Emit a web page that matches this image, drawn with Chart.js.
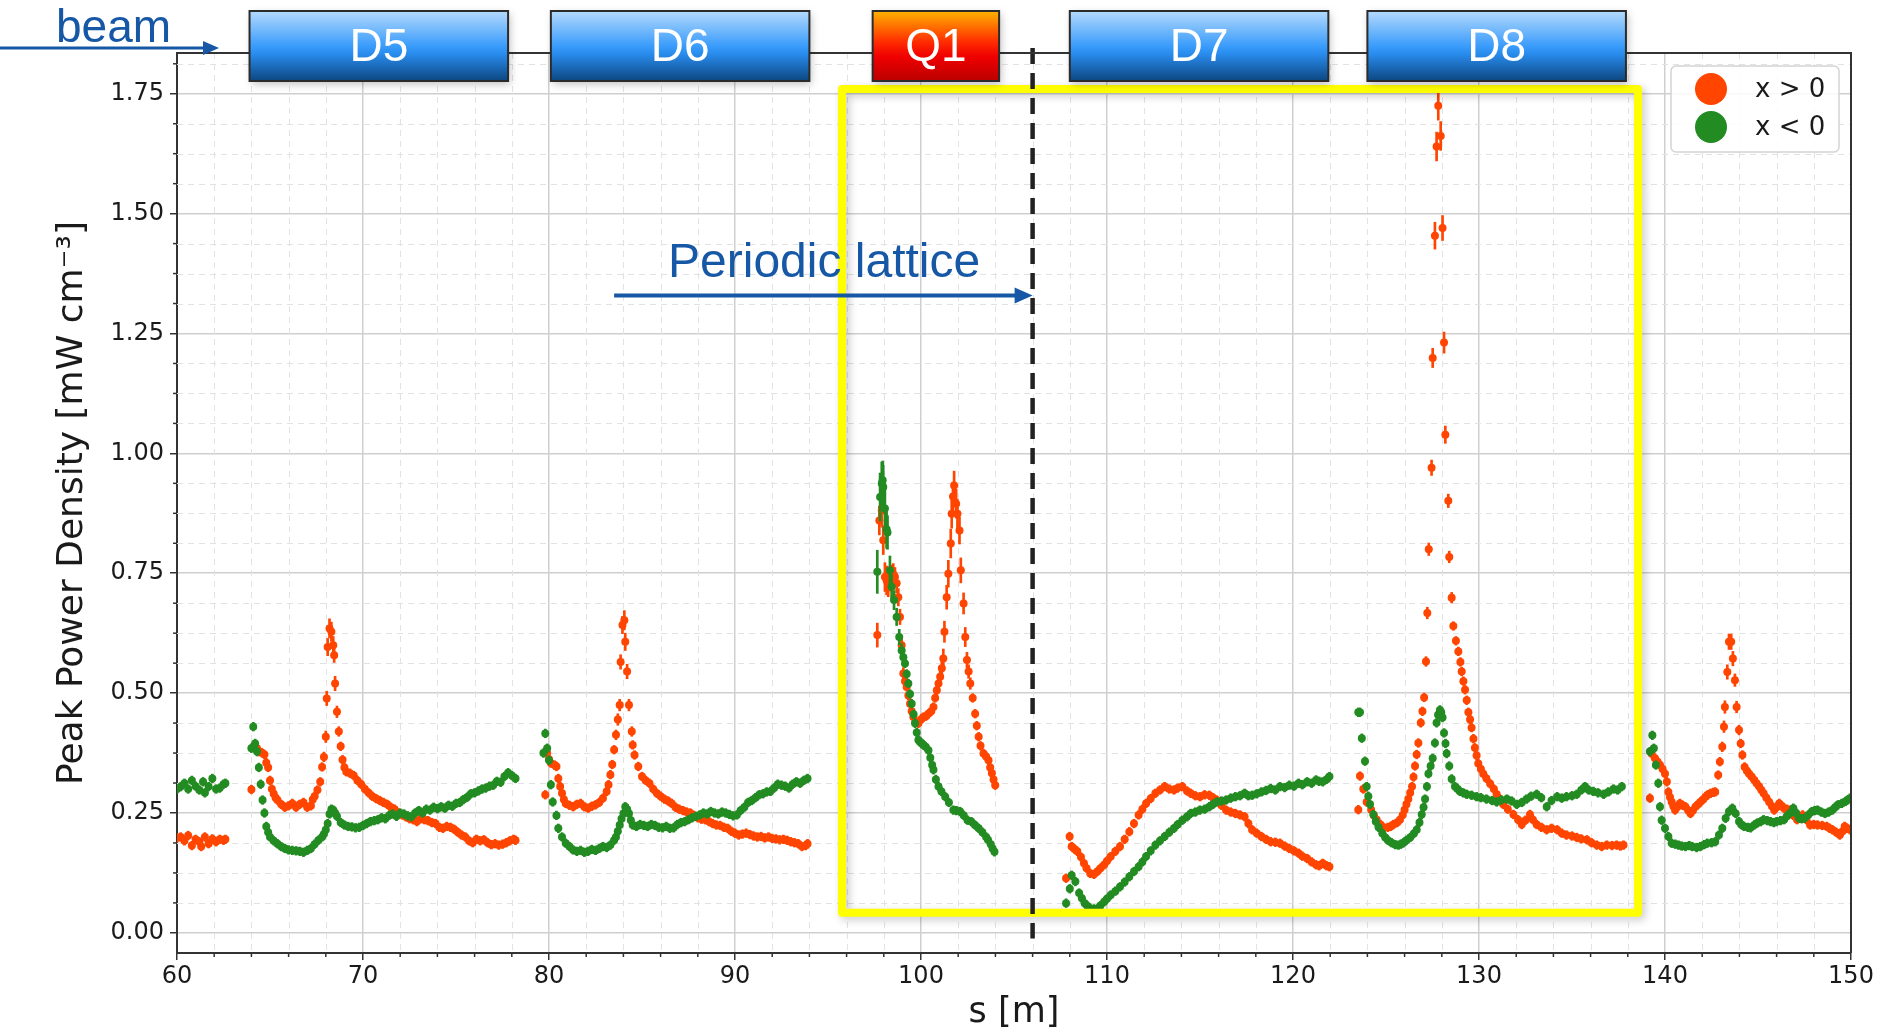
<!DOCTYPE html>
<html>
<head>
<meta charset="utf-8">
<script src="https://cdn.jsdelivr.net/npm/chart.js@4.4.1/dist/chart.umd.min.js"></script>
<style>
  html, body { margin: 0; padding: 0; background: #fff; }
  canvas { display: block; }
</style>
</head>
<body>
<canvas id="chart" width="1888" height="1035"></canvas>
<script>
// [s (m), peak power density (mW cm^-3), error (optional)]
const posPre = [[60.0,.198],[60.2,.200],[60.4,.192],[60.6,.203],[60.8,.182],[61.0,.195],[61.2,.190],[61.3,.180],[61.5,.200],[61.7,.186],[61.9,.196],[62.1,.190],[62.3,.195],[62.5,.193],[62.6,.195]];
const negPre = [[60.0,.300],[60.2,.305],[60.4,.312],[60.6,.300],[60.8,.318],[61.0,.306],[61.2,.298],[61.4,.315],[61.5,.292],[61.7,.305],[61.9,.322],[62.1,.300],[62.3,.302],[62.5,.310],[62.6,.312]];

const posD5 = [[64.0,.299],[64.15,.390],[64.3,.385],[64.4,.378],[64.55,.376],[64.7,.372],[64.8,.355],[64.9,.345],[65.0,.318],[65.1,.300],[65.2,.290],[65.3,.282],[65.4,.277],[65.6,.268],[65.8,.262],[66.0,.265],[66.2,.270],[66.4,.262],[66.6,.268],[66.8,.272],[67.0,.262],[67.2,.265],[67.3,.278],[67.4,.285],[67.55,.298],[67.7,.315],[67.8,.346],[67.9,.367,.01],[68.0,.409,.012],[68.05,.489,.015],[68.1,.596,.018],[68.2,.635,.02],[68.3,.628,.02],[68.4,.600,.018],[68.45,.579,.015],[68.5,.520,.015],[68.6,.461,.012],[68.7,.420,.01],[68.8,.389],[68.9,.361],[69.0,.345],[69.1,.336],[69.3,.333],[69.5,.328],[69.7,.318],[69.9,.310],[70.1,.300],[70.3,.292],[70.5,.285],[70.7,.280],[70.9,.276],[71.1,.272],[71.3,.268],[71.5,.262],[71.7,.258],[71.9,.250],[72.1,.246],[72.3,.242],[72.5,.238],[72.7,.236],[72.9,.232],[73.1,.238],[73.3,.236],[73.5,.234],[73.7,.230],[73.9,.228],[74.1,.220],[74.3,.218],[74.5,.222],[74.7,.220],[74.9,.216],[75.1,.210],[75.3,.204],[75.5,.200],[75.7,.192],[75.9,.188],[76.1,.195],[76.3,.192],[76.5,.194],[76.7,.188],[76.9,.184],[77.1,.186],[77.3,.183],[77.5,.185],[77.7,.188],[77.9,.192],[78.1,.195],[78.2,.193]];
const negD5 = [[64.0,.385],[64.1,.430],[64.2,.395],[64.3,.378],[64.4,.345],[64.5,.310],[64.6,.277],[64.7,.250],[64.8,.222],[64.9,.210],[65.0,.200],[65.2,.192],[65.4,.186],[65.6,.180],[65.8,.176],[66.0,.173],[66.2,.172],[66.4,.171],[66.6,.170],[66.8,.168],[67.0,.172],[67.2,.176],[67.4,.185],[67.6,.193],[67.8,.200],[67.9,.206],[68.0,.215],[68.1,.228],[68.2,.248],[68.3,.258],[68.4,.256],[68.5,.250],[68.6,.243],[68.8,.230],[69.0,.225],[69.2,.222],[69.4,.221],[69.6,.219],[69.8,.220],[70.0,.224],[70.2,.228],[70.4,.232],[70.6,.234],[70.8,.236],[71.0,.240],[71.2,.238],[71.4,.245],[71.6,.248],[71.8,.243],[72.0,.250],[72.2,.248],[72.4,.244],[72.6,.242],[72.8,.250],[73.0,.255],[73.2,.250],[73.4,.258],[73.6,.256],[73.8,.262],[74.0,.259],[74.2,.263],[74.4,.260],[74.6,.266],[74.8,.264],[75.0,.270],[75.2,.272],[75.4,.278],[75.6,.283],[75.8,.290],[76.0,.292],[76.2,.296],[76.4,.300],[76.6,.302],[76.8,.306],[77.0,.308],[77.2,.316],[77.4,.314],[77.6,.326],[77.8,.334],[78.0,.328],[78.2,.322]];

const posD6 = [[79.8,.288],[79.9,.375],[80.0,.362],[80.1,.354],[80.3,.350],[80.4,.347],[80.5,.322],[80.6,.305],[80.7,.291],[80.8,.278],[80.9,.270],[81.1,.266],[81.3,.263],[81.5,.268],[81.7,.270],[81.9,.263],[82.1,.260],[82.3,.264],[82.5,.267],[82.7,.272],[82.9,.281],[83.1,.295],[83.2,.309],[83.3,.330],[83.4,.351],[83.5,.382],[83.6,.413,.01],[83.7,.445,.012],[83.8,.475,.012],[83.85,.565,.015],[83.95,.642,.018],[84.05,.652,.02],[84.1,.607,.018],[84.2,.545,.015],[84.3,.475,.012],[84.45,.420,.01],[84.5,.392],[84.6,.371],[84.8,.347],[85.0,.326],[85.2,.318],[85.4,.312],[85.6,.300],[85.8,.291],[86.0,.285],[86.2,.279],[86.4,.275],[86.6,.270],[86.8,.262],[87.0,.258],[87.2,.255],[87.4,.252],[87.6,.250],[87.8,.245],[88.0,.240],[88.2,.237],[88.4,.236],[88.6,.232],[88.8,.228],[89.0,.225],[89.2,.224],[89.4,.220],[89.6,.218],[89.8,.212],[90.0,.208],[90.2,.204],[90.4,.206],[90.6,.208],[90.8,.205],[91.0,.202],[91.2,.200],[91.4,.201],[91.6,.198],[91.8,.200],[92.0,.197],[92.2,.196],[92.4,.194],[92.6,.195],[92.8,.193],[93.0,.190],[93.2,.188],[93.4,.186],[93.6,.180],[93.8,.182],[93.9,.186]];
const negD6 = [[79.7,.375],[79.8,.416],[79.9,.385],[80.0,.360],[80.1,.309],[80.2,.273],[80.4,.245],[80.5,.218],[80.7,.200],[80.9,.187],[81.1,.180],[81.3,.173],[81.5,.170],[81.7,.172],[81.9,.168],[82.1,.170],[82.3,.174],[82.5,.172],[82.7,.176],[82.9,.180],[83.1,.178],[83.3,.183],[83.5,.193],[83.6,.200],[83.7,.212],[83.8,.225],[83.9,.238],[84.0,.249],[84.1,.263],[84.2,.258],[84.3,.249],[84.4,.235],[84.5,.225],[84.7,.222],[84.9,.226],[85.1,.224],[85.3,.222],[85.5,.226],[85.7,.224],[85.9,.220],[86.1,.219],[86.3,.222],[86.5,.218],[86.7,.219],[86.9,.226],[87.1,.230],[87.3,.232],[87.5,.236],[87.7,.240],[87.9,.243],[88.1,.246],[88.3,.250],[88.5,.248],[88.7,.253],[88.9,.250],[89.1,.248],[89.3,.252],[89.5,.250],[89.7,.247],[89.9,.244],[90.1,.246],[90.3,.255],[90.5,.262],[90.7,.272],[90.9,.276],[91.1,.282],[91.3,.288],[91.5,.290],[91.7,.294],[91.9,.295],[92.1,.302],[92.3,.310],[92.5,.308],[92.7,.306],[92.9,.302],[93.1,.310],[93.3,.315],[93.5,.312],[93.7,.318],[93.9,.322]];

const posQ1 = [[97.65,.621,.025],[97.76,.860,.03],[97.89,.881,.035],[97.97,.819,.03],[98.06,.742,.03],[98.15,.735,.03],[98.24,.729,.028],[98.33,.738,.025],[98.42,.742,.025],[98.51,.748,.022],[98.6,.742,.02],[98.69,.729,.02],[98.78,.700,.018],[98.87,.659,.016],[98.96,.600,.014],[99.05,.541,.012],[99.14,.525],[99.23,.513],[99.32,.495],[99.41,.478],[99.5,.462],[99.59,.450],[99.7,.440],[99.86,.437],[100.0,.445],[100.13,.450],[100.27,.452],[100.4,.457],[100.55,.462],[100.67,.471],[100.76,.490],[100.85,.506,.012],[100.94,.520,.014],[101.03,.534,.016],[101.12,.552,.018],[101.2,.572,.02],[101.26,.628,.022],[101.38,.700,.025],[101.47,.749,.028],[101.6,.812,.03],[101.65,.874,.03],[101.72,.910,.03],[101.78,.933,.03],[101.89,.895,.03],[101.96,.874,.03],[102.07,.839,.028],[102.14,.756,.026],[102.29,.687,.022],[102.38,.617,.02],[102.47,.569,.016],[102.56,.545,.014],[102.65,.520,.012],[102.78,.490],[102.91,.457],[103.0,.432],[103.1,.409],[103.2,.390],[103.36,.374],[103.5,.368],[103.63,.360],[103.72,.345],[103.81,.333],[103.9,.320],[103.99,.308]];
const negQ1 = [[97.65,.753,.045],[97.8,.909,.05],[97.89,.937,.045],[97.94,.944,.04],[97.97,.930,.045],[98.06,.885,.04],[98.15,.842,.04],[98.2,.835,.035],[98.33,.756,.03],[98.42,.722,.025],[98.55,.694,.02],[98.69,.659,.018],[98.83,.617,.016],[98.96,.589,.014],[99.05,.575,.012],[99.14,.562],[99.23,.540],[99.32,.520],[99.41,.498],[99.5,.478],[99.6,.456],[99.68,.437],[99.77,.418],[99.86,.402],[99.95,.398],[100.05,.395],[100.13,.392],[100.25,.388],[100.4,.381],[100.5,.365],[100.6,.350],[100.67,.340],[100.8,.320],[100.94,.305],[101.1,.295],[101.3,.284],[101.5,.272],[101.74,.256],[101.9,.255],[102.1,.253],[102.3,.245],[102.5,.235],[102.7,.232],[102.9,.225],[103.1,.218],[103.3,.210],[103.5,.200],[103.6,.194],[103.75,.185],[103.85,.176],[103.95,.169]];

const posD7 = [[107.8,.114],[107.99,.201],[108.1,.180],[108.25,.175],[108.4,.170],[108.6,.158],[108.76,.145],[108.9,.135],[109.1,.124],[109.3,.122],[109.48,.128],[109.65,.135],[109.85,.142],[110.0,.150],[110.2,.159],[110.45,.170],[110.7,.180],[110.95,.195],[111.2,.211],[111.45,.228],[111.7,.246],[111.9,.258],[112.1,.270],[112.35,.280],[112.6,.291],[112.85,.298],[113.1,.305],[113.35,.300],[113.6,.298],[113.8,.302],[114.05,.305],[114.3,.296],[114.5,.291],[114.75,.286],[115.0,.284],[115.25,.288],[115.5,.287],[115.7,.282],[115.9,.277],[116.15,.266],[116.4,.256],[116.65,.252],[116.9,.249],[117.15,.246],[117.4,.242],[117.6,.228],[117.8,.215],[118.05,.208],[118.3,.201],[118.55,.195],[118.8,.190],[119.05,.189],[119.3,.187],[119.55,.181],[119.8,.176],[120.05,.171],[120.3,.166],[120.5,.160],[120.76,.155],[121.0,.148],[121.24,.142],[121.4,.140],[121.6,.145],[121.8,.140],[121.96,.138]];
const negD7 = [[107.8,.062],[108.0,.092],[108.1,.120],[108.3,.107],[108.5,.083],[108.65,.072],[108.8,.062],[108.95,.056],[109.1,.051],[109.3,.050],[109.5,.051],[109.65,.057],[109.85,.065],[110.0,.071],[110.2,.079],[110.45,.087],[110.7,.096],[110.95,.106],[111.2,.117],[111.45,.128],[111.7,.138],[111.9,.148],[112.1,.159],[112.35,.171],[112.6,.183],[112.85,.192],[113.1,.201],[113.35,.210],[113.6,.218],[113.8,.226],[114.05,.235],[114.3,.242],[114.5,.249],[114.75,.252],[115.0,.256],[115.25,.258],[115.5,.263],[115.7,.268],[115.9,.273],[116.15,.275],[116.4,.277],[116.65,.281],[116.9,.284],[117.15,.286],[117.4,.291],[117.6,.286],[117.8,.287],[118.05,.290],[118.3,.294],[118.55,.297],[118.8,.301],[119.05,.298],[119.3,.305],[119.55,.303],[119.8,.308],[120.05,.306],[120.3,.312],[120.5,.309],[120.76,.315],[121.0,.312],[121.24,.319],[121.4,.316],[121.6,.315],[121.8,.320],[121.96,.326]];

const posD8 = [[123.51,.257],[123.6,.327],[123.78,.300],[123.96,.273],[124.2,.257],[124.35,.245],[124.5,.236],[124.7,.226],[124.85,.220],[125.1,.220],[125.25,.222],[125.4,.226],[125.6,.230],[125.75,.236],[125.9,.246],[126.0,.257],[126.1,.268],[126.2,.279],[126.3,.292],[126.4,.305],[126.48,.325],[126.56,.348],[126.65,.372],[126.74,.396],[126.87,.438],[126.96,.462],[127.05,.491],[127.15,.566,.01],[127.22,.667,.012],[127.3,.800,.013],[127.45,.970,.016],[127.51,1.199,.02],[127.63,1.454,.028],[127.72,1.640,.03],[127.81,1.725,.03],[127.94,1.662,.03],[128.04,1.470,.026],[128.12,1.231,.022],[128.19,1.039,.018],[128.35,.901,.014],[128.4,.784,.012],[128.53,.699,.011],[128.62,.640],[128.76,.609],[128.89,.587],[129.0,.565],[129.07,.545],[129.16,.525],[129.25,.507],[129.34,.485],[129.43,.460],[129.52,.445],[129.6,.428],[129.7,.405],[129.78,.386],[129.87,.370],[129.96,.353],[130.1,.342],[130.23,.332],[130.4,.322],[130.6,.311],[130.8,.300],[130.95,.289],[131.1,.280],[131.3,.268],[131.55,.258],[131.85,.247],[132.1,.236],[132.3,.226],[132.5,.235],[132.74,.247],[132.9,.236],[133.1,.226],[133.35,.220],[133.64,.215],[133.9,.218],[134.2,.215],[134.45,.208],[134.7,.204],[135.0,.202],[135.26,.199],[135.5,.196],[135.8,.194],[136.05,.188],[136.33,.183],[136.6,.180],[136.87,.183],[137.15,.182],[137.4,.183],[137.6,.181],[137.77,.183]];
const negD8 = [[123.51,.460],[123.6,.460],[123.7,.406],[123.87,.358],[123.96,.305],[124.05,.285],[124.14,.268],[124.32,.247],[124.45,.232],[124.6,.220],[124.8,.208],[124.96,.199],[125.1,.193],[125.3,.188],[125.5,.184],[125.67,.183],[125.8,.185],[125.94,.188],[126.1,.193],[126.3,.199],[126.5,.207],[126.65,.215],[126.8,.230],[126.92,.247],[127.02,.262],[127.1,.279],[127.2,.305],[127.28,.332],[127.4,.348],[127.51,.364],[127.63,.396],[127.72,.438],[127.8,.455],[127.9,.465],[127.97,.460],[128.04,.449],[128.12,.417],[128.2,.395],[128.26,.374],[128.4,.348],[128.53,.321],[128.71,.305],[128.85,.300],[128.98,.295],[129.15,.292],[129.34,.289],[129.6,.287],[129.87,.284],[130.1,.282],[130.4,.279],[130.7,.276],[130.95,.273],[131.2,.277],[131.5,.279],[131.75,.275],[132.03,.268],[132.3,.272],[132.56,.279],[132.8,.285],[133.1,.289],[133.35,.282],[133.64,.263],[133.9,.276],[134.2,.284],[134.45,.281],[134.7,.284],[135.0,.286],[135.26,.289],[135.5,.298],[135.7,.305],[135.9,.298],[136.15,.295],[136.4,.292],[136.7,.289],[136.95,.294],[137.23,.300],[137.45,.298],[137.68,.305]];

const posPost = [[139.19,.281],[139.28,.374],[139.46,.364],[139.6,.357],[139.73,.350],[139.87,.342],[140.0,.332],[140.1,.315],[140.18,.294],[140.27,.283],[140.36,.273],[140.45,.264],[140.54,.256],[140.65,.262],[140.8,.270],[140.95,.266],[141.1,.263],[141.25,.255],[141.37,.249],[141.5,.255],[141.64,.263],[141.78,.268],[141.9,.273],[142.05,.278],[142.18,.284],[142.3,.288],[142.45,.291],[142.6,.293],[142.7,.294],[142.86,.329],[142.95,.357],[143.08,.388,.01],[143.17,.430,.012],[143.22,.471,.013],[143.35,.544,.015],[143.44,.607,.016],[143.56,.607,.016],[143.65,.572,.015],[143.76,.527,.013],[143.85,.471,.012],[143.98,.423,.01],[144.07,.395],[144.16,.371],[144.28,.346],[144.4,.338],[144.52,.332],[144.65,.326],[144.8,.319],[144.92,.312],[145.06,.305],[145.18,.298],[145.3,.291],[145.45,.282],[145.6,.273],[145.75,.264],[145.87,.256],[146.0,.262],[146.14,.270],[146.27,.265],[146.4,.260],[146.55,.258],[146.7,.256],[146.9,.245],[147.1,.236],[147.25,.240],[147.4,.246],[147.6,.236],[147.8,.225],[148.0,.226],[148.2,.225],[148.45,.224],[148.7,.222],[148.85,.218],[149.0,.215],[149.2,.210],[149.4,.204],[149.55,.212],[149.66,.222],[149.8,.218],[149.95,.215]];
const negPost = [[139.19,.378],[139.32,.412],[139.4,.385],[139.51,.350],[139.64,.312],[139.73,.263],[139.82,.235],[140.0,.218],[140.18,.201],[140.36,.187],[140.55,.185],[140.72,.183],[140.9,.181],[141.1,.180],[141.3,.182],[141.46,.180],[141.7,.178],[141.9,.180],[142.1,.184],[142.27,.187],[142.5,.188],[142.7,.190],[142.9,.204],[143.08,.218],[143.26,.239],[143.44,.253],[143.62,.260],[143.8,.249],[143.98,.232],[144.1,.226],[144.25,.222],[144.45,.220],[144.6,.219],[144.8,.225],[144.96,.229],[145.15,.232],[145.3,.236],[145.5,.234],[145.67,.232],[145.85,.230],[146.0,.232],[146.2,.234],[146.4,.236],[146.55,.243],[146.7,.249],[146.9,.260],[147.05,.250],[147.2,.239],[147.35,.238],[147.5,.239],[147.7,.246],[147.9,.253],[148.05,.255],[148.2,.256],[148.4,.252],[148.6,.249],[148.8,.252],[149.0,.256],[149.15,.262],[149.3,.267],[149.5,.270],[149.7,.274],[149.85,.278],[149.95,.281]];

const ERR_DEFAULT = 0.009;
const xTicks = [60, 70, 80, 90, 100, 110, 120, 130, 140, 150];
const yTicks = [0, 0.25, 0.5, 0.75, 1.0, 1.25, 1.5, 1.75];
const seriesLabels = ['x > 0', 'x < 0'];

// lattice elements drawn over the top of the plot: name, s start, s end
const magnets = [['D5', 63.9, 77.8], ['D6', 80.1, 94.0], ['Q1', 97.4, 104.2], ['D7', 108.0, 121.9], ['D8', 124.0, 137.9]];

const ORANGE = '#ff4500';
const GREEN = '#228b22';
const BLUE = '#1658a6';

const posAll = [posPre, posD5, posD6, posQ1, posD7, posD8, posPost].flat();
const negAll = [negPre, negD5, negD6, negQ1, negD7, negD8, negPost].flat();
const toPoints = arr => arr.map(p => ({x: p[0], y: p[1]}));
const toBars = arr => arr.map(p => {
  const e = p.length > 2 ? p[2] : ERR_DEFAULT;
  return {x: p[0], y: [p[1] - e, p[1] + e]};
});

Chart.defaults.font.family = 'DejaVu Sans';
Chart.defaults.color = '#1a1a1a';

function arrow(ctx, x0, x1, y, lw, head, half) {
  ctx.lineWidth = lw;
  ctx.beginPath(); ctx.moveTo(x0, y); ctx.lineTo(x1 - head + 1, y); ctx.stroke();
  ctx.beginPath(); ctx.moveTo(x1, y); ctx.lineTo(x1 - head, y - half); ctx.lineTo(x1 - head, y + half);
  ctx.closePath(); ctx.fill();
}

const overlay = {
  id: 'overlay',
  beforeDatasetsDraw(chart) {
    const {ctx, chartArea: a, scales: {x, y}} = chart;
    ctx.save();
    ctx.strokeStyle = '#e2e2e2';
    ctx.lineWidth = 1;
    ctx.setLineDash([6, 5]);
    for (let v = 62; v < 150; v += 2) {
      if (v % 10 === 0) continue;
      const px = Math.round(x.getPixelForValue(v)) + 0.5;
      ctx.beginPath(); ctx.moveTo(px, a.top); ctx.lineTo(px, a.bottom); ctx.stroke();
    }
    for (let k = 1; k * 0.0625 < y.max; k++) {
      if (k % 4 === 0) continue;
      const py = Math.round(y.getPixelForValue(k * 0.0625)) + 0.5;
      ctx.beginPath(); ctx.moveTo(a.left, py); ctx.lineTo(a.right, py); ctx.stroke();
    }
    ctx.setLineDash([]);
    ctx.strokeStyle = '#333';
    ctx.lineWidth = 1.5;
    for (let v = 62; v < 150; v += 2) {
      if (v % 10 === 0) continue;
      const px = x.getPixelForValue(v);
      ctx.beginPath(); ctx.moveTo(px, a.bottom); ctx.lineTo(px, a.bottom + 4); ctx.stroke();
    }
    for (let k = 1; k * 0.0625 < y.max; k++) {
      if (k % 4 === 0) continue;
      const py = y.getPixelForValue(k * 0.0625);
      ctx.beginPath(); ctx.moveTo(a.left - 4, py); ctx.lineTo(a.left, py); ctx.stroke();
    }
    ctx.restore();
  },
  afterDatasetsDraw(chart) {
    const {ctx, chartArea: a, scales: {x, y}} = chart;
    ctx.save();
    // yellow frame around the periodic cell
    const l = x.getPixelForValue(95.75), r = x.getPixelForValue(138.55);
    const t = y.getPixelForValue(1.76), b = y.getPixelForValue(0.042);
    ctx.shadowColor = 'rgba(0,0,0,0.22)';
    ctx.shadowBlur = 8;
    ctx.shadowOffsetX = 3;
    ctx.shadowOffsetY = 3;
    ctx.strokeStyle = '#ffff00';
    ctx.lineWidth = 8;
    ctx.lineJoin = 'round';
    ctx.strokeRect(l, t, r - l, b - t);
    ctx.shadowColor = 'transparent';
    // dashed line at the end of the periodic cell
    const dx = x.getPixelForValue(106);
    ctx.strokeStyle = '#222';
    ctx.lineWidth = 4.5;
    ctx.setLineDash([16, 9]);
    ctx.beginPath(); ctx.moveTo(dx, a.top - 5); ctx.lineTo(dx, y.getPixelForValue(-0.012)); ctx.stroke();
    ctx.setLineDash([]);
    // periodic lattice arrow
    ctx.strokeStyle = BLUE; ctx.fillStyle = BLUE;
    arrow(ctx, x.getPixelForValue(83.5), dx, y.getPixelForValue(1.329), 4, 18, 8);
    ctx.font = '48px "Liberation Sans", Arial, sans-serif';
    ctx.textAlign = 'left';
    ctx.textBaseline = 'alphabetic';
    ctx.fillText('Periodic lattice', x.getPixelForValue(86.4), y.getPixelForValue(1.367));
    ctx.restore();
  },
  afterDraw(chart) {
    const {ctx, chartArea: a, scales: {x}} = chart;
    ctx.save();
    // top and right spines
    ctx.strokeStyle = '#333';
    ctx.lineWidth = 2;
    ctx.beginPath(); ctx.moveTo(a.left, a.top); ctx.lineTo(a.right, a.top); ctx.lineTo(a.right, a.bottom); ctx.stroke();

    // beam arrow
    ctx.strokeStyle = BLUE; ctx.fillStyle = BLUE;
    arrow(ctx, 0, 219, a.top - 5, 3, 16, 7);
    ctx.font = '46px "Liberation Sans", Arial, sans-serif';
    ctx.textAlign = 'left';
    ctx.textBaseline = 'alphabetic';
    ctx.fillText('beam', 56, 42);

    // magnets
    const top = a.top - 42, h = 70;
    magnets.forEach(([name, s0, s1]) => {
      const l = x.getPixelForValue(s0), r = x.getPixelForValue(s1);
      const g = ctx.createLinearGradient(0, top, 0, top + h);
      if (name[0] === 'Q') {
        g.addColorStop(0, '#ffb400'); g.addColorStop(0.45, '#ff2a00');
        g.addColorStop(0.65, '#f00000'); g.addColorStop(1, '#bb0000');
      } else {
        g.addColorStop(0, '#b4dafd'); g.addColorStop(0.5, '#3a9cfb');
        g.addColorStop(0.6, '#2a8ef0'); g.addColorStop(1, '#0c4680');
      }
      ctx.shadowColor = 'rgba(0,0,0,0.25)';
      ctx.shadowBlur = 8; ctx.shadowOffsetX = 2; ctx.shadowOffsetY = 3;
      ctx.fillStyle = g;
      ctx.fillRect(l, top, r - l, h);
      ctx.shadowColor = 'transparent';
      ctx.strokeStyle = '#2b2b2b';
      ctx.lineWidth = 2;
      ctx.strokeRect(l, top, r - l, h);
      ctx.fillStyle = '#ffffff';
      ctx.font = '46px "Liberation Sans", Arial, sans-serif';
      ctx.textAlign = 'center';
      ctx.textBaseline = 'middle';
      ctx.fillText(name, (l + r) / 2, top + h / 2 + 2);
    });

    // legend, in the order of seriesLabels
    const lw = 168, lh = 86;
    const lx = a.right - 12 - lw, ly = a.top + 13;
    ctx.fillStyle = 'rgba(255,255,255,0.85)';
    ctx.strokeStyle = '#d4d4d4';
    ctx.lineWidth = 1.5;
    ctx.beginPath();
    ctx.roundRect(lx, ly, lw, lh, 5);
    ctx.fill(); ctx.stroke();
    seriesLabels.forEach((label, i) => {
      const d = chart.data.datasets.find(ds => ds.type === 'scatter' && ds.label === label);
      const cy = ly + 23 + i * 38;
      ctx.fillStyle = d.backgroundColor;
      ctx.beginPath(); ctx.arc(lx + 40, cy, 16, 0, Math.PI * 2); ctx.fill();
      ctx.fillStyle = '#1a1a1a';
      ctx.font = '26px "DejaVu Sans"';
      ctx.textAlign = 'left';
      ctx.textBaseline = 'middle';
      ctx.fillText(label, lx + 84, cy + 1);
    });
    ctx.restore();
  }
};

new Chart(document.getElementById('chart'), {
  type: 'scatter',
  data: {
    datasets: [
      {type: 'scatter', label: seriesLabels[1], data: toPoints(negAll), backgroundColor: GREEN,
       pointRadius: 4, pointBorderWidth: 0, order: 1},
      {type: 'bar', label: 'err-', data: toBars(negAll), backgroundColor: GREEN,
       barThickness: 2, grouped: false, borderWidth: 0, order: 2},
      {type: 'scatter', label: seriesLabels[0], data: toPoints(posAll), backgroundColor: ORANGE,
       pointRadius: 4, pointBorderWidth: 0, order: 3},
      {type: 'bar', label: 'err+', data: toBars(posAll), backgroundColor: ORANGE,
       barThickness: 2, grouped: false, borderWidth: 0, order: 4}
    ]
  },
  options: {
    responsive: false,
    animation: false,
    events: [],
    layout: {padding: {top: 53, right: 37, left: 0, bottom: 0}},
    plugins: {legend: {display: false}, tooltip: {enabled: false}},
    scales: {
      x: {
        type: 'linear', min: 60, max: 150, offset: false,
        afterBuildTicks: s => { s.ticks = xTicks.map(v => ({value: v})); },
        afterFit: s => { s.height = 82; },
        ticks: {font: {size: 24}, padding: 2, color: '#1a1a1a', maxRotation: 0, autoSkip: false,
                callback: v => String(v)},
        grid: {color: '#cfcfcf', lineWidth: 1.5, tickColor: '#333', tickLength: 7, tickWidth: 1.5, offset: false},
        border: {color: '#333', width: 2},
        title: {display: true, text: 's [m]', font: {size: 35}, color: '#1a1a1a', padding: {top: 0, bottom: 1}}
      },
      y: {
        type: 'linear', min: -0.042, max: 1.835,
        afterBuildTicks: s => { s.ticks = yTicks.map(v => ({value: v})); },
        afterFit: s => { s.width = 177; },
        ticks: {font: {size: 24}, padding: 6, color: '#1a1a1a', callback: v => v.toFixed(2)},
        grid: {color: '#cfcfcf', lineWidth: 1.5, tickColor: '#333', tickLength: 7, tickWidth: 1.5},
        border: {color: '#333', width: 2},
        title: {display: true, text: 'Peak Power Density [mW cm\u207B\u00B3]', font: {size: 36},
                color: '#1a1a1a', padding: {top: 51, bottom: 0}}
      }
    }
  },
  plugins: [overlay]
});
</script>
</body>
</html>
